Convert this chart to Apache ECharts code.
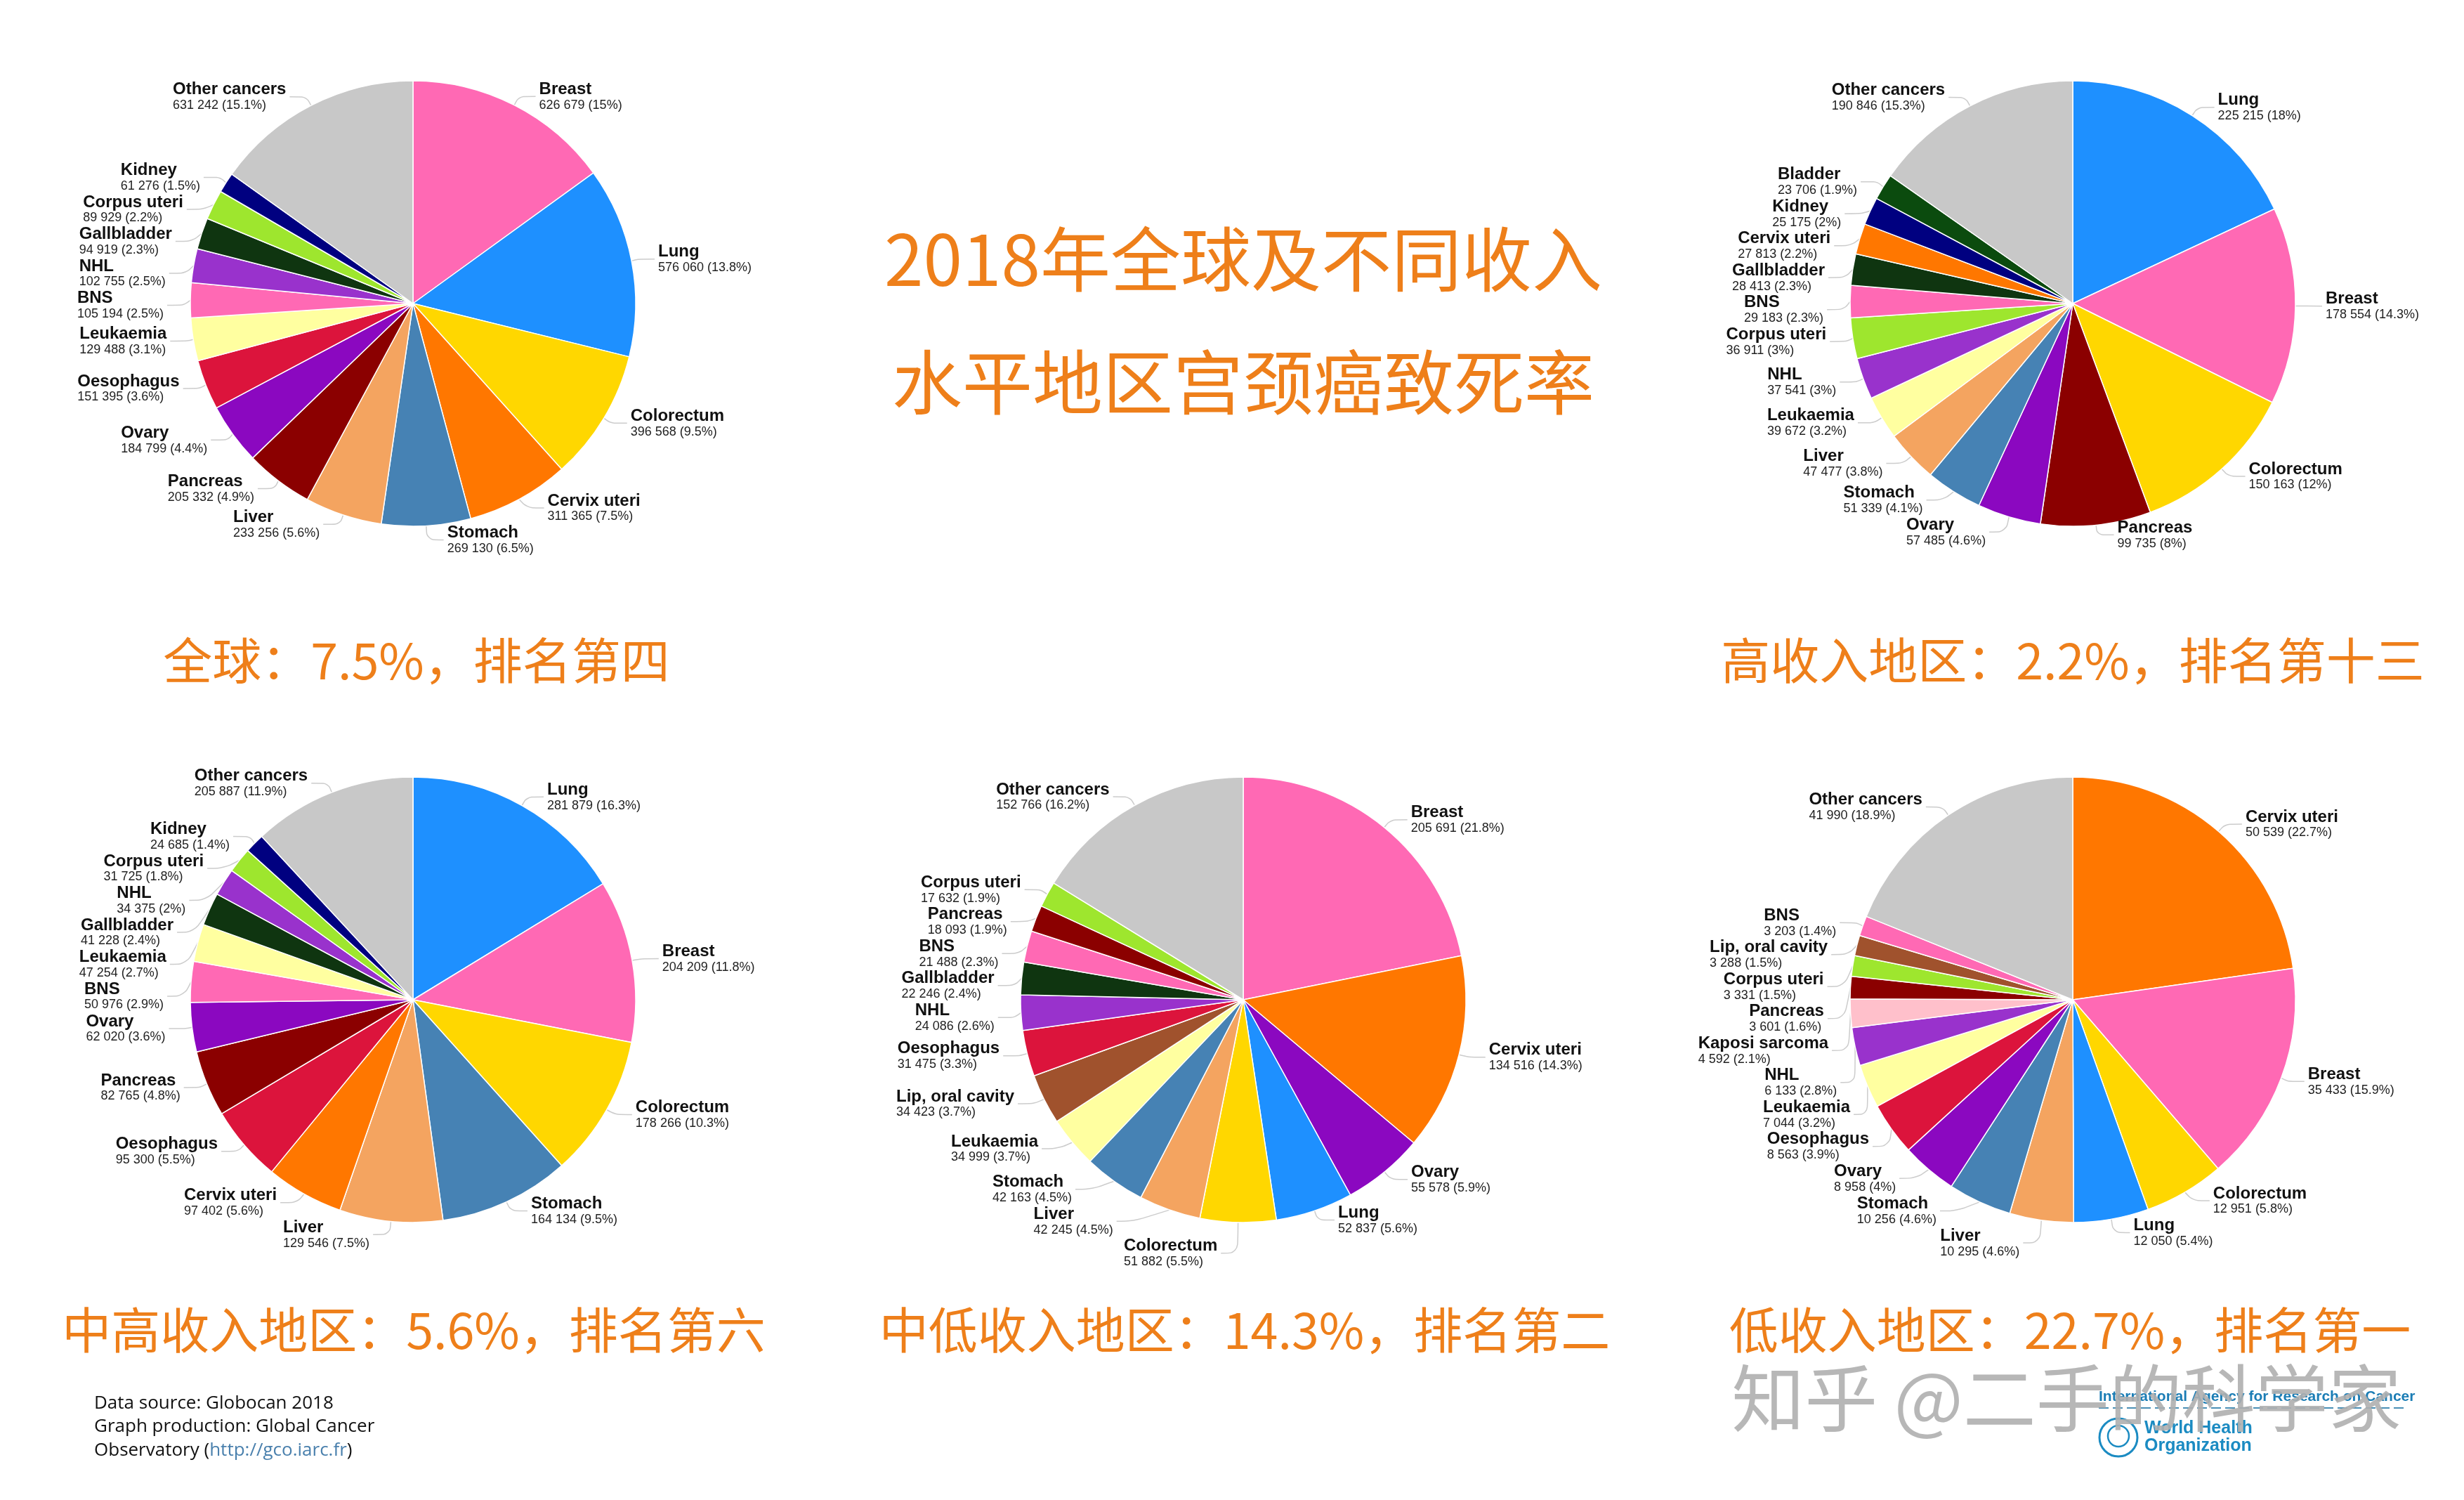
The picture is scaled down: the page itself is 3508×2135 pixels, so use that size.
<!DOCTYPE html>
<html>
<head>
<meta charset="utf-8">
<title>2018年全球及不同收入水平地区宫颈癌致死率</title>
<script src="https://cdn.jsdelivr.net/npm/echarts@6/dist/echarts.min.js"></script>
<style>
  html, body { margin: 0; padding: 0; background: #fff; }
  #chart { width: 3508px; height: 2135px; }
</style>
</head>
<body>
<div id="chart"></div>
<script>
// 五个饼图的数据（按顺时针顺序，Other cancers 放最后）
const globalNames = ['Breast', 'Lung', 'Colorectum', 'Cervix uteri', 'Stomach', 'Liver', 'Pancreas', 'Ovary', 'Oesophagus', 'Leukaemia', 'BNS', 'NHL', 'Gallbladder', 'Corpus uteri', 'Kidney', 'Other cancers'];
const globalValues = [626679, 576060, 396568, 311365, 269130, 233256, 205332, 184799, 151395, 129488, 105194, 102755, 94919, 89929, 61276, 631242];

const highNames = ['Lung', 'Breast', 'Colorectum', 'Pancreas', 'Ovary', 'Stomach', 'Liver', 'Leukaemia', 'NHL', 'Corpus uteri', 'BNS', 'Gallbladder', 'Cervix uteri', 'Kidney', 'Bladder', 'Other cancers'];
const highValues = [225215, 178554, 150163, 99735, 57485, 51339, 47477, 39672, 37541, 36911, 29183, 28413, 27813, 25175, 23706, 190846];

const upperMidNames = ['Lung', 'Breast', 'Colorectum', 'Stomach', 'Liver', 'Cervix uteri', 'Oesophagus', 'Pancreas', 'Ovary', 'BNS', 'Leukaemia', 'Gallbladder', 'NHL', 'Corpus uteri', 'Kidney', 'Other cancers'];
const upperMidValues = [281879, 204209, 178266, 164134, 129546, 97402, 95300, 82765, 62020, 50976, 47254, 41228, 34375, 31725, 24685, 205887];

const lowerMidNames = ['Breast', 'Cervix uteri', 'Ovary', 'Lung', 'Colorectum', 'Liver', 'Stomach', 'Leukaemia', 'Lip, oral cavity', 'Oesophagus', 'NHL', 'Gallbladder', 'BNS', 'Pancreas', 'Corpus uteri', 'Other cancers'];
const lowerMidValues = [205691, 134516, 55578, 52837, 51882, 42245, 42163, 34999, 34423, 31475, 24086, 22246, 21488, 18093, 17632, 152766];

const lowNames = ['Cervix uteri', 'Breast', 'Colorectum', 'Lung', 'Liver', 'Stomach', 'Ovary', 'Oesophagus', 'Leukaemia', 'NHL', 'Kaposi sarcoma', 'Pancreas', 'Corpus uteri', 'Lip, oral cavity', 'BNS', 'Other cancers'];
const lowValues = [50539, 35433, 12951, 12050, 10295, 10256, 8958, 8563, 7044, 6133, 4592, 3601, 3331, 3288, 3203, 41990];

const subtitles = ['全球：7.5%，排名第四', '高收入地区：2.2%，排名第十三', '中高收入地区：5.6%，排名第六', '中低收入地区：14.3%，排名第二', '低收入地区：22.7%，排名第一'];

// 每种癌症固定颜色
const colorOf = {
    'Breast': '#FF69B4',
    'Lung': '#1E90FF',
    'Colorectum': '#FFD700',
    'Cervix uteri': '#FF7700',
    'Stomach': '#4682B4',
    'Liver': '#F4A460',
    'Pancreas': '#8B0000',
    'Ovary': '#8B08C0',
    'Oesophagus': '#DC143C',
    'Leukaemia': '#FFFFA0',
    'BNS': '#FF69B4',
    'NHL': '#9932CC',
    'Gallbladder': '#0F3510',
    'Corpus uteri': '#9EE62E',
    'Kidney': '#000080',
    'Bladder': '#0B4B0E',
    'Lip, oral cavity': '#A0522D',
    'Kaposi sarcoma': '#FFC0CB',
    'Other cancers': '#C8C8C8'
};

const orange = '#EE7F1A';
const R = 317;

function fmtNum(v) {
    return String(v).replace(/\B(?=(\d{3})+(?!\d))/g, ' ');
}

function makePie(names, values, cx, cy) {
    const total = values.reduce((a, b) => a + b, 0);
    return {
        type: 'pie',
        center: [cx, cy],
        radius: [0, R],
        startAngle: 90,
        clockwise: true,
        avoidLabelOverlap: true,
        animation: false,
        emphasis: { disabled: true },
        itemStyle: { borderColor: '#fff', borderWidth: 1.5 },
        data: names.map((n, i) => ({ name: n, value: values[i], itemStyle: { color: colorOf[n] } })),
        label: {
            show: true,
            formatter: p => '{n|' + p.name + '}\n{v|' + fmtNum(p.value) + ' (' + (Math.round(p.value / total * 1000) / 10) + '%)}',
            rich: {
                n: { fontFamily: 'Liberation Sans', fontWeight: 'bold', fontSize: 24, color: '#111', lineHeight: 25, align: 'left' },
                v: { fontFamily: 'Liberation Sans', fontSize: 18, color: '#222', lineHeight: 20, align: 'left' }
            }
        },
        labelLine: {
            show: true,
            length: 14,
            length2: 24,
            smooth: 0.35,
            lineStyle: { color: '#cccccc', width: 1.5 }
        }
    };
}

function txt(text, x, y, size, color) {
    return {
        type: 'text',
        x: x,
        y: y,
        style: {
            text: text,
            fill: color,
            font: size + 'px "Noto Sans CJK SC"',
            align: 'center',
            verticalAlign: 'middle'
        }
    };
}

const chart = echarts.init(document.getElementById('chart'));

chart.setOption({
    backgroundColor: '#fff',
    animation: false,
    series: [
        makePie(globalNames, globalValues, 588, 432),
        makePie(highNames, highValues, 2951, 432),
        makePie(upperMidNames, upperMidValues, 588, 1423),
        makePie(lowerMidNames, lowerMidValues, 1770, 1423),
        makePie(lowNames, lowValues, 2951, 1423)
    ],
    graphic: [
        // 标题
        txt('2018年全球及不同收入', 1770, 369, 100, orange),
        txt('水平地区宫颈癌致死率', 1770, 544, 100, orange),
        // 小标题
        txt(subtitles[0], 593, 940, 70, orange),
        txt(subtitles[1], 2951, 940, 70, orange),
        txt(subtitles[2], 589, 1893, 70, orange),
        txt(subtitles[3], 1772, 1893, 70, orange),
        txt(subtitles[4], 2947, 1893, 70, orange),
        // 数据来源
        {
            type: 'text', x: 134, y: 1998,
            style: { text: 'Data source: Globocan 2018', fill: '#111', font: '26px "Open Sans"', verticalAlign: 'middle' }
        },
        {
            type: 'text', x: 134, y: 2031,
            style: { text: 'Graph production: Global Cancer', fill: '#111', font: '26px "Open Sans"', verticalAlign: 'middle' }
        },
        {
            type: 'text', x: 134, y: 2065,
            style: {
                text: 'Observatory ({u|http://gco.iarc.fr})',
                fill: '#111', font: '26px "Open Sans"', verticalAlign: 'middle',
                rich: { u: { fill: '#4A80AD', font: '26px "Open Sans"' } }
            }
        },
        // IARC / WHO 标志
        {
            type: 'text', x: 2988, y: 1988, z: 5,
            style: { text: 'International Agency for Research on Cancer', fill: '#1B7DB5', font: 'bold 21px "Liberation Sans Narrow", "Liberation Sans"', verticalAlign: 'middle' }
        },
        {
            type: 'line', z: 5,
            shape: { x1: 2988, y1: 2004, x2: 3425, y2: 2004 },
            style: { stroke: '#4A8FB5', lineWidth: 2, lineDash: [14, 6] }
        },
        {
            type: 'circle', z: 5,
            shape: { cx: 3016, cy: 2046, r: 27 },
            style: { fill: 'none', stroke: '#1B8BC2', lineWidth: 3 }
        },
        {
            type: 'circle', z: 5,
            shape: { cx: 3016, cy: 2044, r: 15 },
            style: { fill: 'none', stroke: '#1B8BC2', lineWidth: 2.5 }
        },
        {
            type: 'text', x: 3053, y: 2033, z: 5,
            style: { text: 'World Health', fill: '#1B8BC2', font: 'bold 25px "Liberation Sans Narrow", "Liberation Sans"', verticalAlign: 'middle' }
        },
        {
            type: 'text', x: 3053, y: 2058, z: 5,
            style: { text: 'Organization', fill: '#1B8BC2', font: 'bold 25px "Liberation Sans Narrow", "Liberation Sans"', verticalAlign: 'middle' }
        },
        // 水印
        {
            type: 'text', x: 2942, y: 1990, z: 10,
            style: {
                text: '知乎 @二手的科学家',
                fill: 'rgba(175,175,175,0.9)',
                font: '104px "Noto Sans CJK SC"',
                align: 'center',
                verticalAlign: 'middle',
                textShadowColor: 'rgba(110,110,110,0.6)',
                textShadowOffsetX: -2,
                textShadowOffsetY: 2
            }
        }
    ]
});
</script>
</body>
</html>
